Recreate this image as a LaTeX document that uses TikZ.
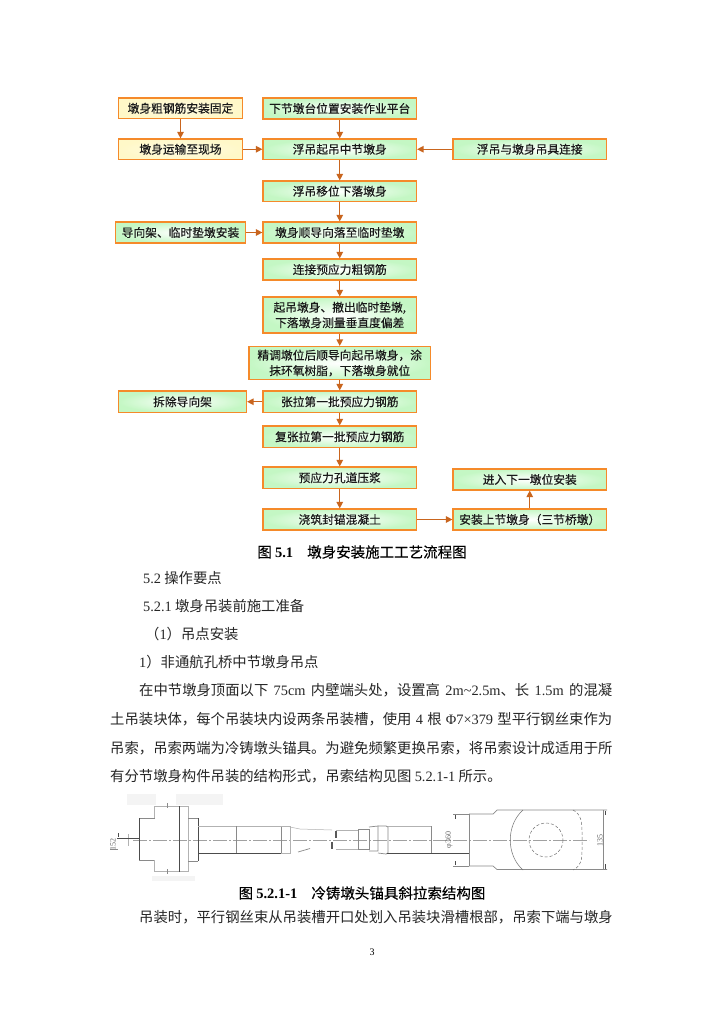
\documentclass[tikz,border=0pt]{standalone}
\usepackage{fontspec}
\setmainfont{Liberation Serif}
\newfontfamily\cjk{Noto Sans CJK SC}
\newfontfamily\cjkb[FakeBold=0.25]{Noto Sans CJK SC}
\usetikzlibrary{arrows.meta}
\definecolor{edgeor}{HTML}{F58A2A}
\definecolor{arrowor}{HTML}{C9651E}
\definecolor{boxgreen}{HTML}{C4F7C4}
\definecolor{boxyellow}{HTML}{FFF8C8}
\definecolor{draftgray}{HTML}{8A8A8A}
\definecolor{patchgray}{HTML}{F4F4F4}
\tikzset{
  flowbox/.style={draw=edgeor,line width=1.2pt,inner color=white,outer color=boxgreen,
    font=\cjkb\fontsize{11.75}{15.5}\selectfont,align=center,inner sep=0pt,text=black!90},
  yellowbox/.style={flowbox,inner color=boxyellow!50!white,outer color=boxyellow},
  flowarrow/.style={draw=arrowor,line width=1.3pt,-{Triangle[length=6.5pt,width=6.5pt]}},
  bodyline/.style={anchor=west,inner sep=0pt,font=\cjk\fontsize{14.35}{14.35}\selectfont,text=black!85},
  captionline/.style={anchor=center,inner sep=0pt,font=\cjkb\fontsize{14.5}{14.5}\selectfont},
  thickpart/.style={draw=draftgray,line width=0.7pt},
  darkpart/.style={draw=black!70,line width=1pt},
  centerl/.style={draw=draftgray!80,line width=0.6pt,dash pattern=on 14pt off 2pt on 2pt off 2pt},
  thinpart/.style={draw=black!30,line width=0.5pt},
  dimtext/.style={inner sep=0pt,font=\rmfamily\fontsize{8}{8}\selectfont,text=black!60,rotate=90},
}
\newcommand{\fbx}[7][flowbox]{% style, name, x0, y0, x1, y1, text
  \node[#1,minimum width=#5pt-#3pt,minimum height=#6pt-#4pt] (#2) at ({(#3+#5)/2},{(#4+#6)/2}) {#7};}
\newcommand{\lat}[1]{{\rmfamily #1}}
\newcommand{\latb}[1]{{\rmfamily\bfseries #1}}
\begin{document}
\begin{tikzpicture}[x=1pt,y=-1pt]
\useasboundingbox[fill=white] (0,0) rectangle (724,1024);
% boxes
\fbx[yellowbox]{a1}{118.5}{98}{242.5}{118.5}{墩身粗钢筋安装固定}
\fbx[yellowbox]{a2}{118.5}{139}{242.5}{159.5}{墩身运输至现场}
\fbx{b1}{263}{98}{416.5}{119}{下节墩台位置安装作业平台}
\fbx{b2}{263}{139}{416.5}{159.5}{浮吊起吊中节墩身}
\fbx{r1}{453}{139}{606.5}{159.5}{浮吊与墩身吊具连接}
\fbx{b3}{263}{181}{416.5}{201.5}{浮吊移位下落墩身}
\fbx{l1}{115.5}{222}{245.5}{243}{导向架、临时垫墩安装}
\fbx{b4}{263}{222}{416.5}{243}{墩身顺导向落至临时垫墩}
\fbx{b5}{263}{259}{416.5}{280}{连接预应力粗钢筋}
\fbx{b6}{263}{297}{416.5}{333}{起吊墩身、撤出临时垫墩,\\下落墩身测量垂直度偏差}
\fbx{b7}{249}{346.5}{430.5}{379.5}{精调墩位后顺导向起吊墩身，涂\\抹环氧树脂，下落墩身就位}
\fbx{b8}{263}{391}{416.5}{412.5}{张拉第一批预应力钢筋}
\fbx{k1}{118.5}{391}{246.5}{412.5}{拆除导向架}
\fbx{b9}{263}{426}{416.5}{447.5}{复张拉第一批预应力钢筋}
\fbx{b10}{263}{467}{416.5}{488.5}{预应力孔道压浆}
\fbx{b11}{263}{509}{416.5}{530}{浇筑封锚混凝土}
\fbx{p1}{453}{509}{606.5}{530}{安装上节墩身（三节桥墩）}
\fbx{p2}{453}{469}{606.5}{490}{进入下一墩位安装}
% arrows
\draw[flowarrow] (a1) -- (a2);
\draw[flowarrow] (a2) -- (b2);
\draw[flowarrow] (r1) -- (b2);
\draw[flowarrow] (l1) -- (b4);
\draw[flowarrow] (b8) -- (k1);
\draw[flowarrow] (b1) -- (b2);
\draw[flowarrow] (b2) -- (b3);
\draw[flowarrow] (b3) -- (b4);
\draw[flowarrow] (b4) -- (b5);
\draw[flowarrow] (b5) -- (b6);
\draw[flowarrow] (b6) -- (b7);
\draw[flowarrow] (b7) -- (b8);
\draw[flowarrow] (b8) -- (b9);
\draw[flowarrow] (b9) -- (b10);
\draw[flowarrow] (b10) -- (b11);
\draw[flowarrow] (b11) -- (p1);
\draw[flowarrow] (p1) -- (p2);
% caption 1
\node[captionline] (cap1) at (362,552) {图 \latb{5.1}\hspace{14pt}墩身安装施工工艺流程图};
% body text
\node[bodyline] (t1) at (143,578) {\lat{5.2} 操作要点};
\node[bodyline] (t2) at (143,606) {\lat{5.2.1} 墩身吊装前施工准备};
\node[bodyline] (t3) at (145,634) {（\lat{1}）吊点安装};
\node[bodyline] (t4) at (139,662) {\lat{1}）非通航孔桥中节墩身吊点};
\node[bodyline] (t5) at (139,690) {\hbox to 473pt{在中节墩身顶面以下\hfil\lat{75cm}\hfil 内壁端头处，设置高\hfil\lat{2m\char`\~2.5m}、长\hfil\lat{1.5m}\hfil 的混凝}};
\node[bodyline] (t6) at (110,719) {\hbox to 502pt{土吊装块体，每个吊装块内设两条吊装槽，使用\hfil\lat{4}\hfil 根\hfil\lat{Φ7×379}\hfil 型平行钢丝束作为}};
\node[bodyline] (t7) at (110,748) {吊索，吊索两端为冷铸墩头锚具。为避免频繁更换吊索，将吊索设计成适用于所};
\node[bodyline] (t8) at (110,776) {有分节墩身构件吊装的结构形式，吊索结构见图 \lat{5.2.1-1} 所示。};
% caption 2 and following text
\node[captionline] (cap2) at (362,893) {图 \latb{5.2.1-1}\hspace{14pt}冷铸墩头锚具斜拉索结构图};
\node[bodyline] (t9) at (139,917) {吊装时，平行钢丝束从吊装槽开口处划入吊装块滑槽根部，吊索下端与墩身};
\node[inner sep=0pt,font=\rmfamily\fontsize{10}{10}\selectfont] (pg) at (372,952) {3};
% drawing: patches
\fill[patchgray] (127,794) rectangle (156,805);
\fill[patchgray] (176,794) rectangle (223,805);
\fill[patchgray] (152,876) rectangle (195,881);
% drawing: centre line
\draw[centerl] (133,840) -- (589,840);
% left dim
\draw[thinpart] (128,834) -- (128,846);
\draw[darkpart] (117,838) -- (139,838);
\draw[darkpart] (118,833) -- (118,837);
\node[dimtext] (d1) at (113,844.5) {152};
\draw[thickpart] (110,849) -- (118,849);
% left socket
\draw[thickpart] (155,818) -- (139,818);
\draw[darkpart] (139,818) -- (139,860);
\draw[thickpart] (139,860) -- (155,860);
\draw[thinpart] (154,806) -- (154,818);
\draw[thinpart] (154,860) -- (154,871.5) -- (188,871.5) -- (188,806) -- (154,806);
\draw[darkpart] (179.5,806) -- (179.5,872);
\draw[thickpart] (188,818) -- (198,818);
\draw[thickpart] (188,861) -- (198,861);
\draw[darkpart] (198,818) -- (198,861);
\draw[thickpart] (167.5,803) -- (167.5,808);
\draw[thickpart] (167.5,869) -- (167.5,874);
% shaft
\draw[thinpart] (198,826) -- (281,826);
\draw[darkpart] (198,853) -- (281,853);
\draw[thickpart] (236.5,826) -- (236.5,853);
\draw[thickpart] (281.5,826) -- (281.5,853);
\draw[thinpart] (281,826) -- (290,826) -- (290,853) -- (281,853);
\draw[thinpart] (290,827) -- (300,829) -- (332,830);
\draw[thickpart] (298,852) -- (310,848.5);
% break marks
\fill[black!65] (335,831) rectangle (337,838);
\fill[black!65] (331,842) rectangle (333,849);
% right taper
\draw[thinpart] (336,830) -- (358,830);
\draw[thinpart] (336,849) -- (358,849);
\draw[thickpart] (358,829) -- (369,829) -- (369,849) -- (358,849) -- cycle;
\draw[thickpart] (369,827) -- (378,826) -- (378,851) -- (369,851);
\draw[thickpart] (378,826) -- (386,826) -- (388,827) -- (388,853) -- (386,854) -- (378,853);
\draw[thinpart] (388,826) -- (431,826);
\draw[darkpart] (387,853) -- (469,853);
\draw[thickpart] (431,826) -- (431,853);
% anchor head
\draw[thickpart] (469,813.5) -- (469,866);
\draw[thickpart] (453,814) -- (469,814);
\draw[thickpart] (453,866) -- (469,866);
\draw[darkpart] (455.5,815) -- (455.5,819);
\draw[darkpart] (455.5,861) -- (455.5,865);
\draw[thickpart] (469,814) -- (493,814) -- (497,810) -- (607,810);
\draw[thickpart] (469,866) -- (493,866) -- (497,869.5) -- (607,869.5);
\node[dimtext] (d2) at (449,840) {φ360};
\draw[thickpart] (603,810) -- (603,869.5);
\draw[darkpart] (605,811) -- (605,815);
\draw[darkpart] (605,864) -- (605,868.5);
\node[dimtext] (d3) at (600,840) {135};
\draw[thinpart,black!55] (523,810) .. controls (506,825) and (506,855) .. (523,870);
\draw[thinpart,black!55,densely dashed] (573,810) .. controls (581,814) and (582,822) .. (582,832) -- (582,850) .. controls (582,860) and (581,866) .. (573,870);
\draw[thinpart,black!55,densely dashed] (546,840) circle (17);
\end{tikzpicture}
\end{document}
